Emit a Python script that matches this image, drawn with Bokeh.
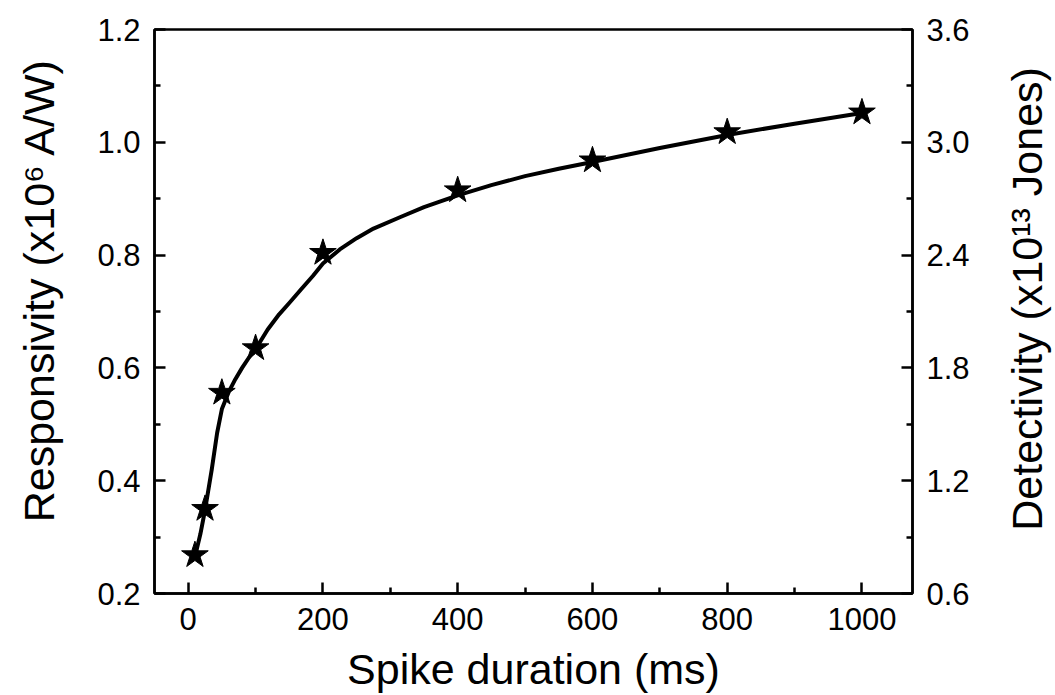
import math
from bokeh.plotting import figure
from bokeh.layouts import row
from bokeh.models import Range1d, LinearAxis, FixedTicker, NumeralTickFormatter, Label
from bokeh.embed import file_html
from bokeh.resources import INLINE

# measured points (spike duration in ms, responsivity in 1e6 A/W)
duration = [10, 25, 50, 100, 200, 400, 600, 800, 1000]
responsivity = [0.268, 0.350, 0.556, 0.635, 0.804, 0.915, 0.968, 1.018, 1.053]

# fitted curve
curve_x = [10, 18, 25, 35, 43, 50, 60, 70, 80, 90, 100, 118, 135, 150, 168, 185, 200, 225, 250,
           275, 316, 350, 400, 450, 500, 550, 600, 700, 800, 900, 1000]
curve_y = [0.265, 0.305, 0.348, 0.42, 0.485, 0.527, 0.557, 0.58, 0.6, 0.618, 0.633, 0.668, 0.695,
           0.715, 0.74, 0.763, 0.785, 0.81, 0.83, 0.847, 0.868, 0.885, 0.906, 0.924, 0.94, 0.953,
           0.965, 0.99, 1.013, 1.033, 1.052]

x_ticks = [0, 200, 400, 600, 800, 1000]
x_minor = [100, 300, 500, 700, 900]
left_ticks = [0.2, 0.4, 0.6, 0.8, 1.0, 1.2]
left_minor = [0.3, 0.5, 0.7, 0.9, 1.1]
right_ticks = [0.6, 1.2, 1.8, 2.4, 3.0, 3.6]
right_minor = [0.9, 1.5, 2.1, 2.7, 3.3]

x_title = "Spike duration (ms)"
left_title = "Responsivity (x10\u2076 A/W)"
right_title = "Detectivity (x10\u00b9\u00b3 Jones)"

FONT = "Liberation Sans"
TICK_SIZE = "31px"
LABEL_SIZE = "43px"
H = 695
SIDE_W = 70

p = figure(width=915, height=H, output_backend="svg", toolbar_location=None,
           x_range=Range1d(-50, 1075), y_range=Range1d(0.2, 1.2),
           min_border_left=84, min_border_right=73, min_border_top=29, min_border_bottom=100)
p.extra_y_ranges = {"det": Range1d(0.6, 3.6)}
p.grid.visible = False
p.outline_line_color = "black"
p.outline_line_width = 2.5
p.background_fill_color = "white"
p.border_fill_color = "white"

p.line(curve_x, curve_y, line_color="black", line_width=4, line_join="round")
p.scatter(duration, responsivity, marker="star", size=28, fill_color="black", line_color="black")

def style(ax, ticks, minor, fmt):
    ax.ticker = FixedTicker(ticks=ticks, minor_ticks=minor)
    ax.axis_label_text_font = FONT
    ax.axis_label_text_font_size = LABEL_SIZE
    ax.axis_label_text_font_style = "normal"
    ax.axis_label_text_color = "black"
    ax.major_label_text_font = FONT
    ax.major_label_text_font_size = TICK_SIZE
    ax.major_label_text_color = "black"
    ax.axis_line_color = "black"
    ax.axis_line_width = 2.5
    ax.major_tick_line_color = "black"
    ax.major_tick_line_width = 2.5
    ax.minor_tick_line_color = "black"
    ax.minor_tick_line_width = 2.5
    ax.major_tick_in = 11
    ax.major_tick_out = 0
    ax.minor_tick_in = 6
    ax.minor_tick_out = 0
    ax.major_label_standoff = 14
    if fmt:
        ax.formatter = NumeralTickFormatter(format=fmt)

style(p.xaxis[0], x_ticks, x_minor, None)
p.xaxis[0].axis_label = x_title
p.xaxis[0].axis_label_standoff = 12
style(p.yaxis[0], left_ticks, left_minor, "0.0")

right = LinearAxis(y_range_name="det")
style(right, right_ticks, right_minor, "0.0")
p.add_layout(right, "right")

def side_panel(title, cx, cy):
    s = figure(width=SIDE_W, height=H, output_backend="svg", toolbar_location=None,
               x_range=Range1d(0, SIDE_W), y_range=Range1d(0, H),
               x_axis_type=None, y_axis_type=None,
               min_border_left=0, min_border_right=0, min_border_top=0, min_border_bottom=0)
    s.grid.visible = False
    s.outline_line_color = None
    s.background_fill_color = "white"
    s.border_fill_color = "white"
    s.add_layout(Label(x=cx, y=cy, text=title, angle=math.pi / 2, text_align="center",
                       text_baseline="middle", text_font=FONT, text_font_size=LABEL_SIZE,
                       text_color="black"))
    return s

pl = side_panel(left_title, 38, H - 321)
pr = side_panel(right_title, 41, H - 332)

layout = row(pl, p, pr)
open("out.html", "w").write(file_html(layout, INLINE))
